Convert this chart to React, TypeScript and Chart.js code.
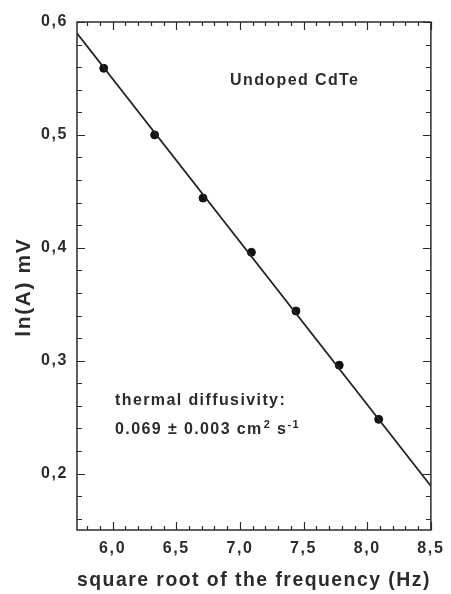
import React, { useEffect, useRef } from "react";
import { Chart, registerables } from "chart.js";

Chart.register(...registerables);

// Measured data points
const freqSqrt = [5.93, 6.33, 6.71, 7.09, 7.44, 7.78, 8.09];
const lnA = [0.559, 0.5, 0.444, 0.396, 0.344, 0.296, 0.248];

// Linear fit line endpoints
const fitX = [5.72, 8.5];
const fitY = [0.59, 0.189];

// Axis ranges and tick values
const xRange = [5.72, 8.5];
const yRange = [0.15, 0.6];
const xTickVals = [6.0, 6.5, 7.0, 7.5, 8.0, 8.5];
const yTickVals = [0.2, 0.3, 0.4, 0.5, 0.6];
const xMinorStep = 0.1;
const yMinorStep = 0.02;

const xTitle = "square root of the frequency (Hz)";
const yTitle = "ln(A) mV";
const sampleLabel = "Undoped CdTe";
const noteLine1 = "thermal diffusivity:";
const noteLine2 = ["0.069 \u00b1 0.003 cm", "2", " s", "-1"];

const FONT = "'Liberation Sans', Arial, sans-serif";
const INK = "#2b2b2b";

const spacing = {
  id: "spacing",
  beforeDraw(chart: any) {
    chart.ctx.letterSpacing = "1.6px";
  },
};

const frameTicks = {
  id: "frameTicks",
  afterDraw(chart: any) {
    const { ctx, chartArea: a, scales } = chart;
    const xs = scales.x;
    const ys = scales.y;
    ctx.save();
    ctx.strokeStyle = INK;
    ctx.lineWidth = 1.5;
    ctx.strokeRect(a.left, a.top, a.right - a.left, a.bottom - a.top);
    ctx.lineWidth = 1.2;
    ctx.beginPath();
    // x ticks (top & bottom, inward)
    for (let v = Math.ceil(xRange[0] / xMinorStep) * xMinorStep; v <= xRange[1] + 1e-9; v += xMinorStep) {
      const major = xTickVals.some((t) => Math.abs(t - v) < 1e-6);
      const len = major ? 8 : 4;
      const px = Math.round(xs.getPixelForValue(v)) + 0.5;
      ctx.moveTo(px, a.bottom);
      ctx.lineTo(px, a.bottom - len);
      ctx.moveTo(px, a.top);
      ctx.lineTo(px, a.top + len);
    }
    // y ticks (left & right, inward)
    for (let v = Math.ceil(yRange[0] / yMinorStep - 1e-9) * yMinorStep; v <= yRange[1] + 1e-9; v += yMinorStep) {
      const major = yTickVals.some((t) => Math.abs(t - v) < 1e-6);
      const len = major ? 8 : 5;
      const py = Math.round(ys.getPixelForValue(v)) + 0.5;
      ctx.moveTo(a.left, py);
      ctx.lineTo(a.left + len, py);
      ctx.moveTo(a.right, py);
      ctx.lineTo(a.right - len, py);
    }
    ctx.stroke();

    // annotations
    ctx.fillStyle = INK;
    ctx.textBaseline = "middle";
    ctx.textAlign = "left";
    ctx.letterSpacing = "1.4px";
    ctx.font = `bold 16px ${FONT}`;
    ctx.fillText(sampleLabel, 230, 81);
    ctx.fillText(noteLine1, 115, 401);
    let x = 115;
    const y = 430;
    ctx.fillText(noteLine2[0], x, y);
    x += ctx.measureText(noteLine2[0]).width + 1;
    ctx.font = `bold 11px ${FONT}`;
    ctx.fillText(noteLine2[1], x, y - 5);
    x += ctx.measureText(noteLine2[1]).width;
    ctx.font = `bold 16px ${FONT}`;
    ctx.fillText(noteLine2[2], x, y);
    x += ctx.measureText(noteLine2[2]).width;
    ctx.font = `bold 11px ${FONT}`;
    ctx.fillText(noteLine2[3], x, y - 5);
    ctx.restore();
  },
};

export default function App() {
  const ref = useRef<HTMLCanvasElement>(null);
  useEffect(() => {
    if (!ref.current) return;
    const chart = new Chart(ref.current, {
      type: "scatter",
      data: {
        datasets: [
          {
            data: fitX.map((x, i) => ({ x, y: fitY[i] })),
            showLine: true,
            borderColor: "#222",
            borderWidth: 1.8,
            pointRadius: 0,
          },
          {
            data: freqSqrt.map((x, i) => ({ x, y: lnA[i] })),
            showLine: false,
            backgroundColor: "#111",
            borderColor: "#111",
            pointRadius: 4,
          },
        ],
      },
      options: {
        responsive: false,
        animation: false,
        layout: { padding: { top: 22, right: 16, left: 0, bottom: 0 } },
        plugins: { legend: { display: false }, tooltip: { enabled: false } },
        scales: {
          x: {
            type: "linear",
            min: xRange[0],
            max: xRange[1],
            afterBuildTicks: (s: any) => {
              s.ticks = xTickVals.map((v) => ({ value: v }));
            },
            afterFit: (s: any) => {
              s.height = 64;
            },
            grid: { display: false, drawTicks: false },
            border: { display: false },
            ticks: {
              padding: 9,
              color: INK,
              font: { family: FONT, size: 16, weight: "bold" },
              callback: (v: any) => Number(v).toFixed(1).replace(".", ","),
              maxRotation: 0,
            },
            title: {
              display: true,
              text: xTitle,
              color: INK,
              font: { family: FONT, size: 21, weight: "bold" },
              padding: { top: 0, bottom: 1 },
            },
          },
          y: {
            type: "linear",
            min: yRange[0],
            max: yRange[1],
            afterBuildTicks: (s: any) => {
              s.ticks = yTickVals.map((v) => ({ value: v }));
            },
            afterFit: (s: any) => {
              s.width = 77;
            },
            grid: { display: false, drawTicks: false },
            border: { display: false },
            ticks: {
              padding: 9,
              color: INK,
              font: { family: FONT, size: 16, weight: "bold" },
              callback: (v: any) => Number(v).toFixed(1).replace(".", ","),
            },
            title: {
              display: true,
              text: yTitle + "\u00a0\u00a0\u00a0",
              color: INK,
              font: { family: FONT, size: 21, weight: "bold" },
              padding: { top: 12, bottom: 0 },
            },
          },
        },
      },
      plugins: [spacing, frameTicks],
    });
    return () => chart.destroy();
  }, []);
  return (
    <div style={{ position: "fixed", left: 0, top: 0, width: 451, height: 594, background: "#fff" }}>
      <canvas ref={ref} width={451} height={594} />
    </div>
  );
}
